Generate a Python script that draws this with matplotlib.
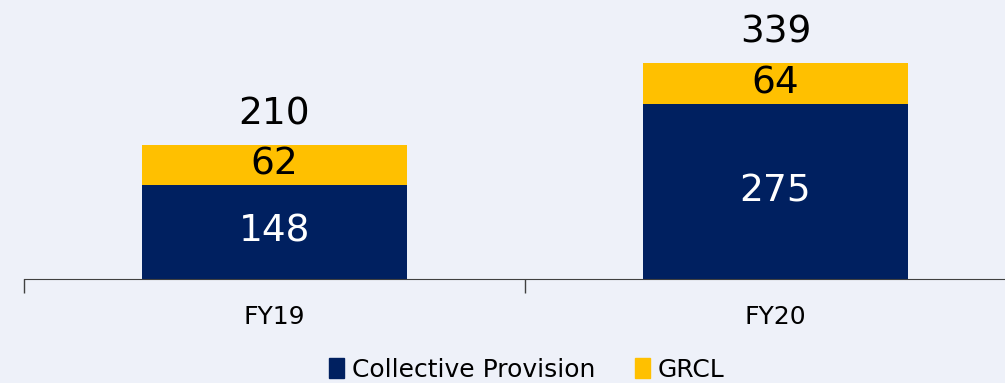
import matplotlib
matplotlib.use("Agg")
import matplotlib.pyplot as plt
from matplotlib.patches import Patch

categories = ["FY19", "FY20"]
collective = [148, 275]
grcl = [62, 64]
totals = [210, 339]

BG = "#EEF1F9"
NAVY = "#002060"
GOLD = "#FFC000"
plt.rcParams["font.family"] = ["DejaVu Sans"]

W, H = 1005, 383
fig = plt.figure(figsize=(W / 100, H / 100), dpi=100, facecolor=BG)
ax_left = 24 / W
ax_right = 1026 / W
ax_bottom = (H - 279) / H
ax = fig.add_axes([ax_left, ax_bottom, ax_right - ax_left, 1 - ax_bottom])
ax.set_facecolor(BG)

x = [0.5 + i for i in range(len(categories))]
bw = 0.53
ax.bar(x, collective, width=bw, color=NAVY, zorder=2)
ax.bar(x, grcl, width=bw, bottom=collective, color=GOLD, zorder=2)

fs = 27
for xi, c, g, t in zip(x, collective, grcl, totals):
    ax.text(xi, c / 2, f"{c}", ha="center", va="center", color="white", fontsize=fs)
    ax.text(xi, c + g / 2, f"{g}", ha="center", va="center", color="black", fontsize=fs)
    ax.text(xi, t + 20, f"{t}", ha="center", va="bottom", color="black", fontsize=fs)

ax.set_xlim(0, 2)
ax.set_ylim(0, 438)
ax.set_xticks([0, 1, 2])
ax.set_xticklabels([])
ax.set_xticks(x, minor=True)
ax.set_xticklabels(categories, minor=True, fontsize=18)
ax.tick_params(axis="x", which="major", length=10, color="#404040", width=1)
ax.tick_params(axis="x", which="minor", length=0, pad=19)
ax.set_yticks([])
for s in ["top", "right", "left"]:
    ax.spines[s].set_visible(False)
ax.spines["bottom"].set_color("#404040")

handles = [Patch(color=NAVY, label="Collective Provision"), Patch(color=GOLD, label="GRCL")]
fig.legend(handles=handles, loc="center", bbox_to_anchor=(527 / W, 1 - 370 / H),
           ncol=2, frameon=False, fontsize=18, handlelength=0.6, handleheight=0.85,
           handletextpad=0.3, columnspacing=1.6, borderpad=0)

fig.savefig("out.png", dpi=100, facecolor=BG)
